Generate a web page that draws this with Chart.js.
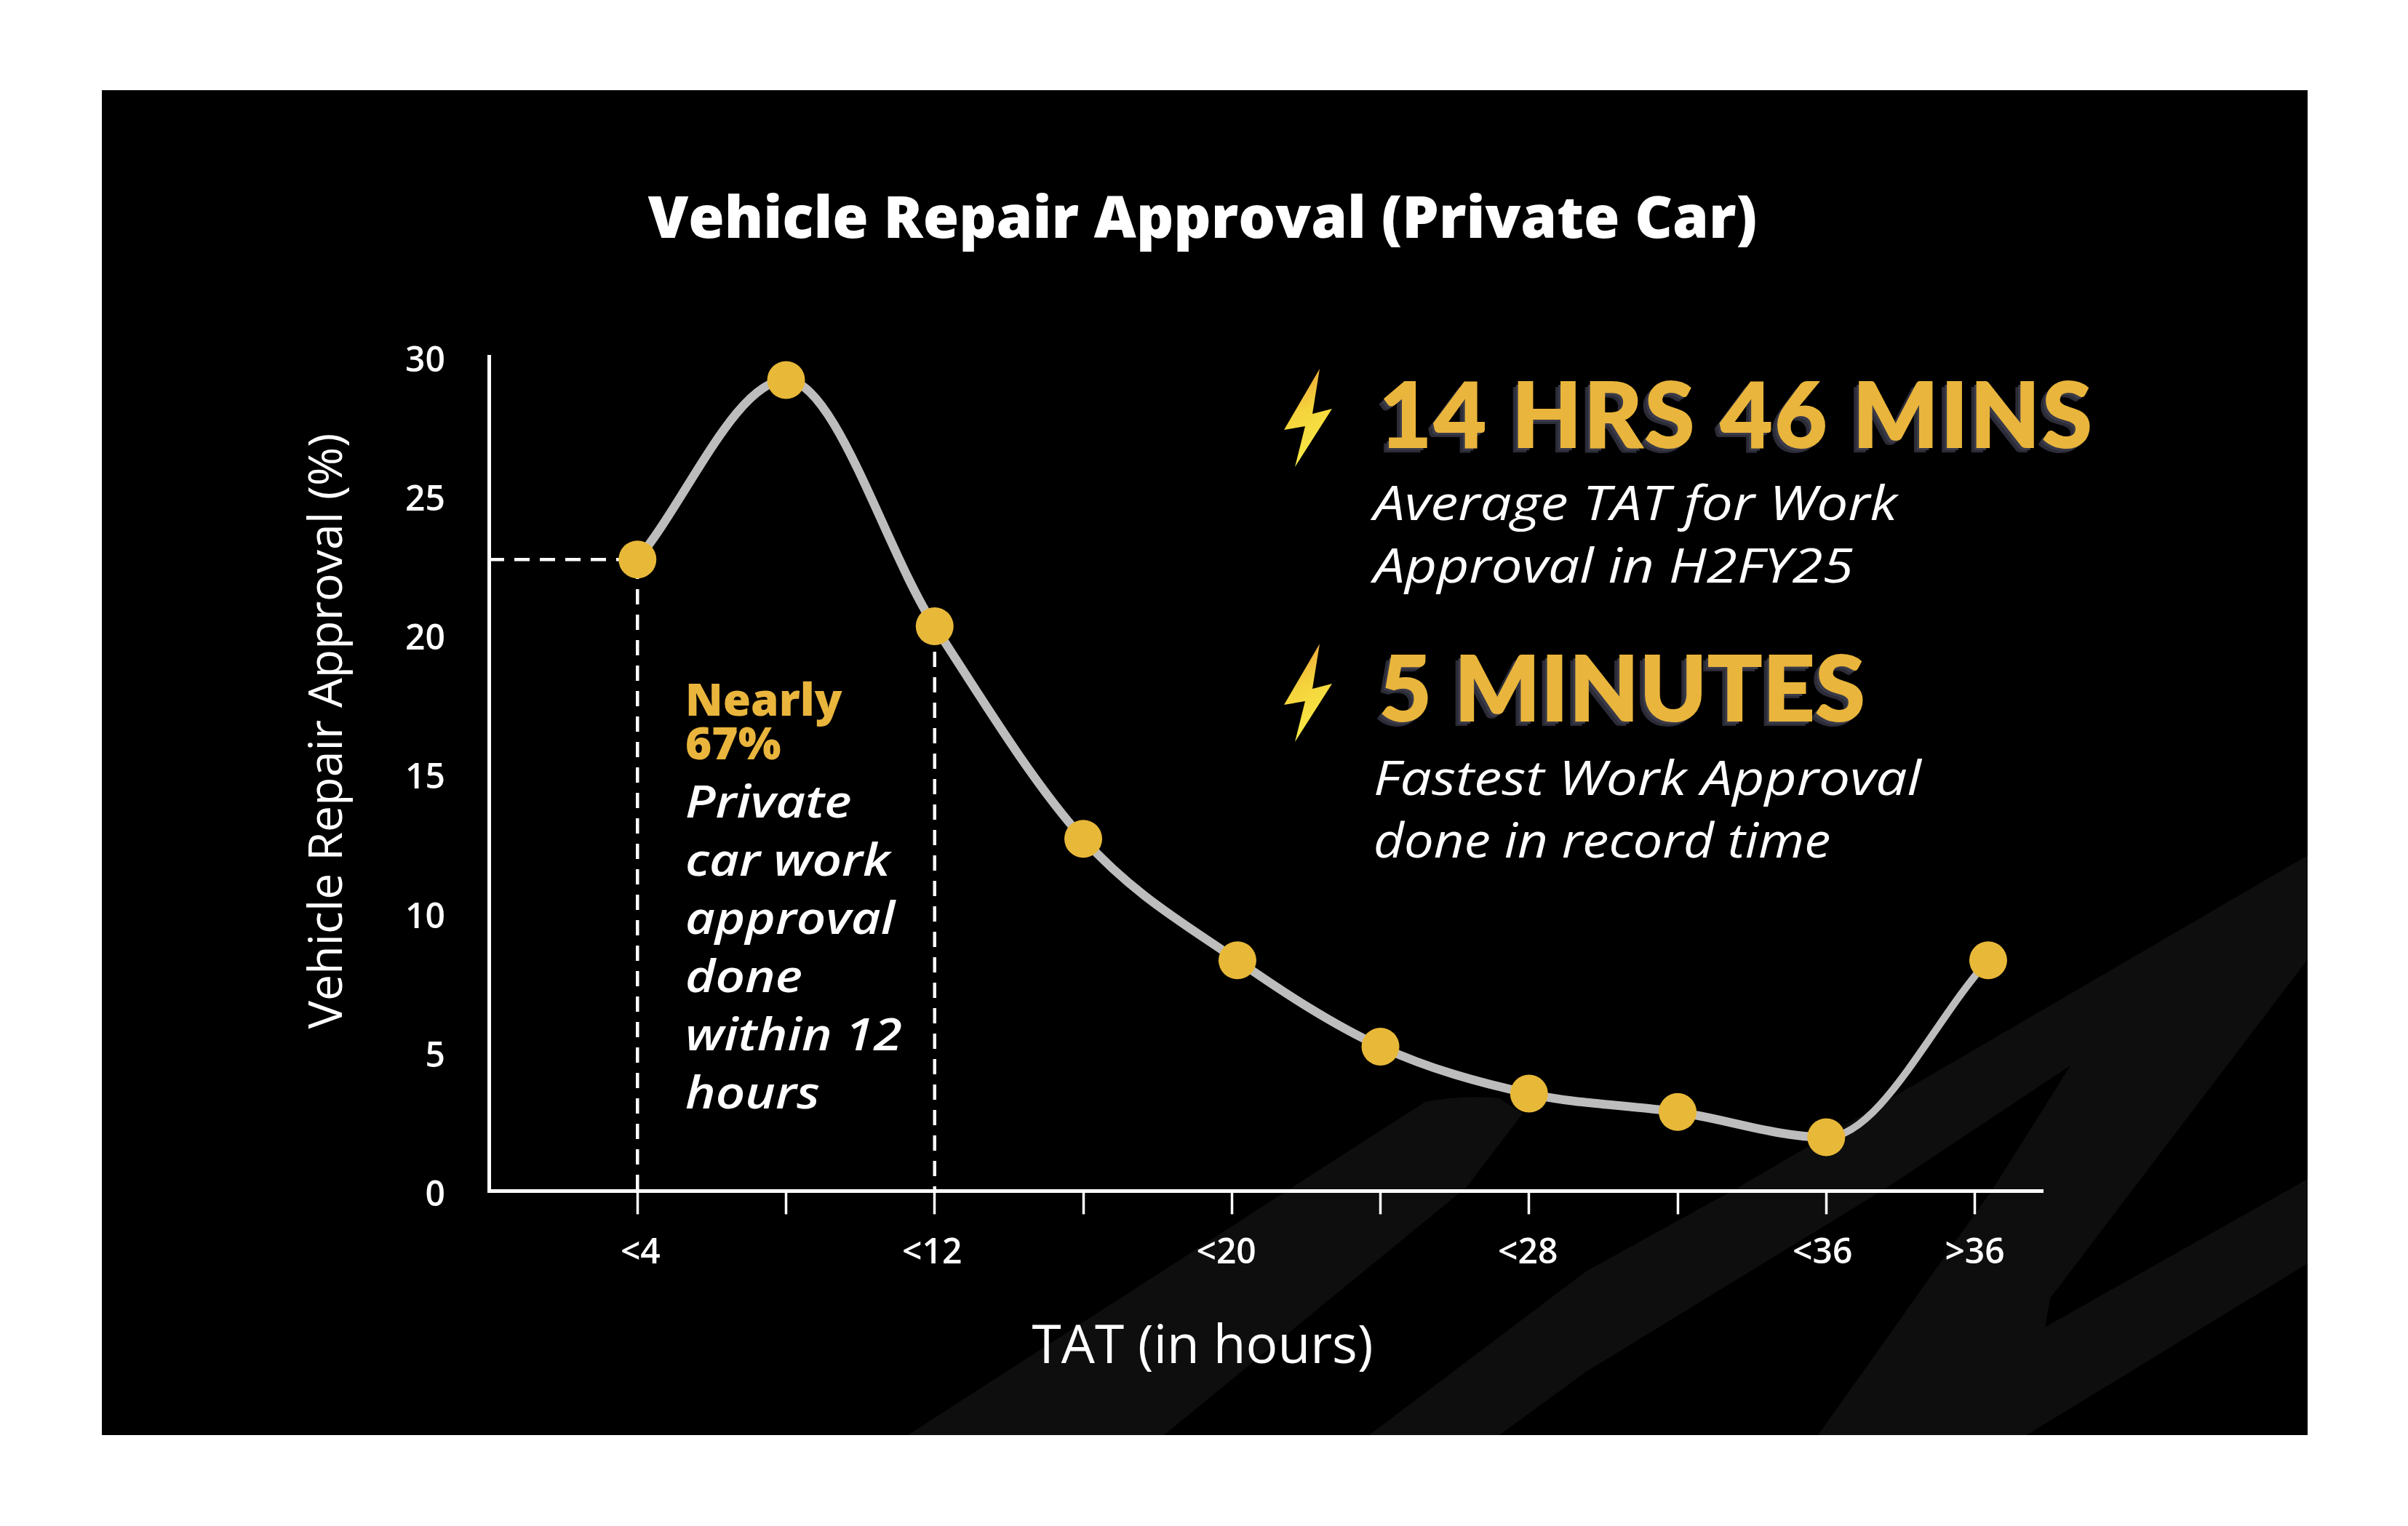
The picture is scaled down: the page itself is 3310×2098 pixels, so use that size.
<!DOCTYPE html>
<html><head><meta charset="utf-8">
<script src="https://cdn.jsdelivr.net/npm/chart.js@4/dist/chart.umd.min.js"></script>
<style>
html,body{margin:0;padding:0;background:#fff;width:3310px;height:2098px;overflow:hidden}
#panel{position:absolute;left:140px;top:124px;width:3032px;height:1849px;background:#000}
#wm{position:absolute;left:0;top:0}
#c{position:absolute;left:0;top:0}
.t{position:absolute;white-space:nowrap;font-family:"Open Sans",sans-serif;color:#fff;transform-origin:left top}
.big{font-family:Lato,sans-serif;font-weight:900;color:#E9B53C;font-size:124px;-webkit-text-stroke:2px #E9B53C;text-shadow:-4px 4px 0 #3a3a48,-8px 7px 0 #2c2c38;line-height:1}
.sub{font-style:italic;font-weight:500;font-size:66px;line-height:86px;transform:scaleX(1.16)}
.note{font-style:italic;font-weight:600;font-size:62px;line-height:80px;transform:scaleX(1.14)}
.hl{font-weight:800;color:#E9B53C;font-size:62px;line-height:60px}
</style></head><body>
<div id="panel"></div>
<svg id="wm" width="3310" height="2098" viewBox="0 0 3310 2098">
<g fill="#0e0e0e">
<path d="M1248 1973 L1777 1632 L1959 1515 Q2010 1505 2061 1510 L2093 1531 L2016 1632 L1600 1973 Z"/>
<path d="M1882 1973 L2180 1748 L2390 1632 L3172 1176 L3172 1319 L2818 1785 L2786 1973 L2499 1973 L2741 1632 L2846 1465 L2595 1632 L2180 1886 L2061 1973 Z"/>
<path d="M2786 1973 L2805 1828 L3172 1621 L3172 1737 Z"/>
</g>
<defs><linearGradient id="g" x1="0" y1="0" x2="0.3" y2="1"><stop offset="0" stop-color="#e8953a"/><stop offset="0.5" stop-color="#f5d33c"/><stop offset="1" stop-color="#f7ea45"/></linearGradient></defs>
<polygon fill="url(#g)" points="1814,507 1765,591 1794,586 1780,642 1831,562 1804,569"/>
<polygon fill="url(#g)" points="1814,885 1765,969 1794,964 1780,1020 1831,940 1804,947"/>
</svg>
<canvas id="c" width="3310" height="2098"></canvas>
<div class="t big" style="left:1896px;top:505px;letter-spacing:3px">14 HRS 46 MINS</div>
<div class="t sub" style="left:1888px;top:646px">Average TAT for Work<br>Approval in H2FY25</div>
<div class="t big" style="left:1896px;top:881px;letter-spacing:1px">5 MINUTES</div>
<div class="t sub" style="left:1888px;top:1024px">Fastest Work Approval</div>
<div class="t sub" style="left:1888px;top:1110px;transform:scaleX(1.1)">done in record time</div>
<div class="t hl" style="left:942px;top:930px">Nearly<br>67%</div>
<div class="t note" style="left:942px;top:1060px">Private<br>car work<br>approval<br>done<br>within 12<br>hours</div>
<script>
const chartTitle = 'Vehicle Repair Approval (Private Car)';
const xAxisTitle = 'TAT (in hours)';
const yAxisTitle = 'Vehicle Repair Approval (%)';
const tatHours = [4, 8, 12, 16, 20.15, 24, 28, 32, 36, 40.36];
const approvalPct = [22.7, 29.15, 20.3, 12.66, 8.29, 5.19, 3.5, 2.84, 1.93, 8.29];
const xTickValues = [4, 8, 12, 16, 20, 24, 28, 32, 36, 40];
const xLabelValues = [4.08, 11.93, 19.85, 27.97, 35.9, 40];
const xLabels = ['<4', '<12', '<20', '<28', '<36', '>36'];
const yTickValues = [0, 5, 10, 15, 20, 25, 30];
const dropA = [[0, 22.7], [4, 22.7], [4, 0]];
const dropB = [[12, 20.3], [12, 0]];
const toXY = a => a.map(([x, y]) => ({x, y}));
const xMin = 0, xMax = 41.83;
const font = 'Open Sans';
const chart = new Chart(document.getElementById('c'), {
  type: 'line',
  data: { datasets: [
    { data: tatHours.map((x, i) => ({x, y: approvalPct[i]})), borderColor: '#BDBDBD', borderWidth: 12,
      cubicInterpolationMode: 'monotone',
      segment: { borderWidth: c => c.p0DataIndex === 8 ? 10 : 12 },
      pointRadius: 26, pointBackgroundColor: '#E8B838', pointBorderWidth: 0, order: 1 },
    { data: toXY(dropA), borderColor: '#fff', borderWidth: 4.5, borderDash: [21, 14], pointRadius: 0, tension: 0, order: 2 },
    { data: toXY(dropB), borderColor: '#fff', borderWidth: 4.5, borderDash: [21, 14], pointRadius: 0, tension: 0, order: 2 }
  ]},
  options: {
    responsive: false, animation: false, devicePixelRatio: 1,
    layout: { padding: { left: 413, right: 417, top: 0, bottom: 0 } },
    plugins: {
      legend: { display: false }, tooltip: { enabled: false },
      title: { display: true, text: chartTitle, color: '#fff',
        font: { family: font, size: 80, weight: 800, lineHeight: 1.2 }, padding: { top: 256, bottom: 138 } },
      subtitle: { display: true, position: 'bottom', text: xAxisTitle, color: '#fff',
        font: { family: font, size: 73, weight: 400, lineHeight: 1.2 }, padding: { top: 0, bottom: 201 } }
    },
    scales: {
      x: { type: 'linear', position: 'bottom', min: xMin, max: xMax, weight: 1,
        afterBuildTicks: s => { s.ticks = xTickValues.map(value => ({value})); },
        afterFit: s => { s.height = 36; },
        ticks: { display: false },
        grid: { drawOnChartArea: false, drawTicks: true, tickLength: 32, tickColor: '#fff', tickWidth: 3.5 },
        border: { color: '#fff', width: 5 } },
      x2: { type: 'linear', position: 'bottom', min: xMin, max: xMax, weight: 2,
        afterBuildTicks: s => { s.ticks = xLabelValues.map(value => ({value})); },
        afterFit: s => { s.height = 136; },
        ticks: { color: '#fff', padding: 13, maxRotation: 0, autoSkip: false,
          font: { family: font, size: 48, weight: 600 },
          callback: v => { const i = xLabelValues.indexOf(v); return i < 0 ? '' : xLabels[i]; } },
        grid: { display: false }, border: { display: false } },
      y: { min: 0, max: 30, position: 'left',
        afterBuildTicks: s => { s.ticks = yTickValues.map(value => ({value})); },
        afterFit: s => { s.width = 259; },
        ticks: { color: '#fff', padding: 52, labelOffset: 7, font: { family: font, size: 48, weight: 600 } },
        grid: { display: false },
        border: { color: '#fff', width: 5 },
        title: { display: true, text: '\u00A0'.repeat(7) + yAxisTitle, color: '#fff', font: { family: font, size: 64.5, weight: 400 }, padding: { top: 0, bottom: 0 } } },
      yRight: { position: 'right', min: 0, max: 30, display: true,
        afterFit: s => { s.width = 85; },
        ticks: { display: false }, grid: { display: false }, border: { display: false } }
    }
  }
});
</script>
</body></html>
